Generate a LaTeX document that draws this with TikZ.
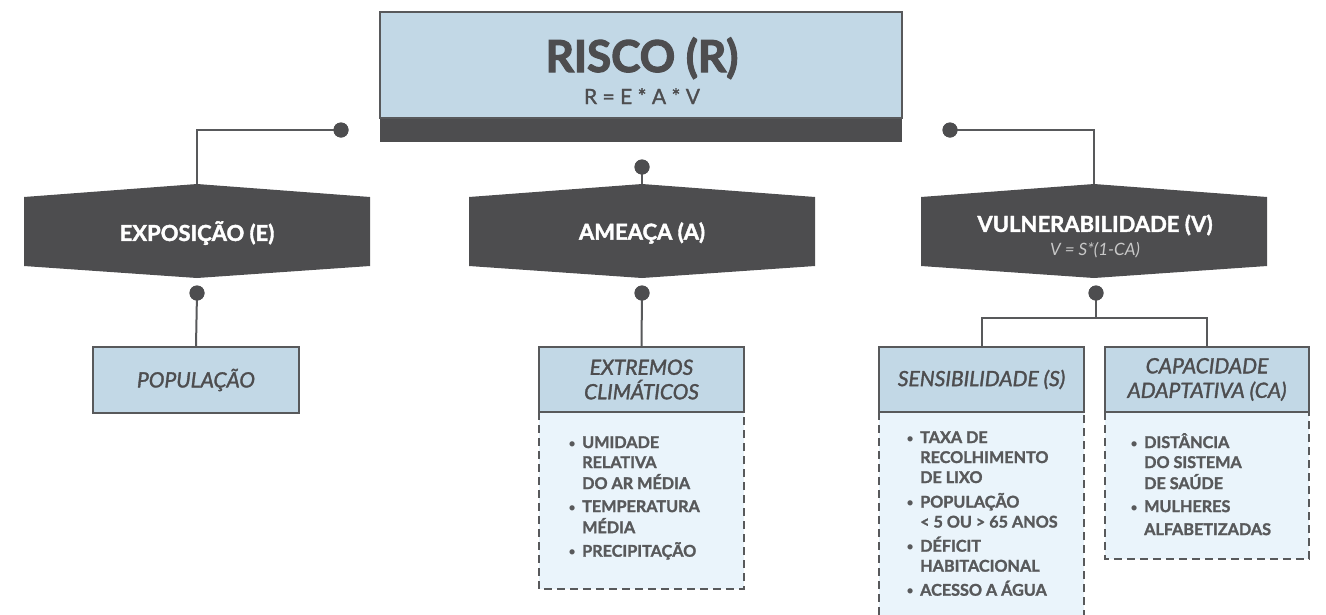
\documentclass[tikz,border=0pt]{standalone}
\usepackage{fontspec}
\setmainfont{Lato}
\newfontfamily\fBlack{Lato}[BoldFeatures={FakeBold=2.6}]
\newfontfamily\fHeavy{Lato}[BoldFeatures={FakeBold=1.8}]
\newfontfamily\fList{Lato}[BoldFeatures={FakeBold=1.6}]
\newfontfamily\fSemi{Lato}[ItalicFeatures={FakeBold=1.6}]
\newfontfamily\fMed{Lato}[UprightFeatures={FakeBold=1.3}]
\definecolor{dk}{HTML}{4D4D4F}
\definecolor{ln}{HTML}{58595B}
\definecolor{hb}{HTML}{C2D8E6}
\definecolor{lb}{HTML}{EAF4FB}
\definecolor{fg}{HTML}{C8C8C8}
\newcommand\hexshape[2]{\fill[dk] ({#1-#2},197) -- (#1,184) -- ({#1+#2},197) -- ({#1+#2},266) -- (#1,278) -- ({#1-#2},266) -- cycle;}
\newcommand\bul{\makebox[14pt][l]{{\normalfont\fontsize{14}{20}\selectfont •}}}
\newcommand\ind{\hspace*{14pt}}
\begin{document}
\begin{tikzpicture}[x=1pt,y=-1pt,
  conn/.style={draw=ln, line width=2pt},
  dotc/.style={circle, fill=dk, inner sep=0pt, minimum size=15pt},
  hdr/.style={draw=ln, line width=1.8pt, fill=hb, text=dk, align=center, inner sep=0pt},
  dashbox/.style={draw=ln, line width=1.8pt, dash pattern=on 8pt off 5pt, fill=lb},
  hextext/.style={text=white, font=\fHeavy\bfseries\fontsize{22}{25}\selectfont, align=center},
  hdrfont/.style={font=\fSemi\itshape\fontsize{21}{24.5}\selectfont},
  blist/.style={font=\fList\bfseries\fontsize{16.2}{20}\selectfont, text=ln, anchor=base west, inner sep=0pt, align=left}
]
\useasboundingbox (0,0) rectangle (1326,614);

% top box
\fill[dk] (380,118) rectangle (902,142);
\node[hdr, minimum width=522pt, minimum height=106pt] (risk) at (641,65) {};
\node[text=dk, font=\fBlack\bfseries\fontsize{44}{46}\selectfont, anchor=base] (rtitle) at (642,72) {RISCO (R)};
\node[text=dk, font=\fMed\fontsize{21}{25}\selectfont, anchor=base] (rform) at (642,104) {R = E * A * V};

% hexagons
\hexshape{197}{173}
\hexshape{642}{173}
\hexshape{1094}{173}
\coordinate (Etop) at (197,184);
\coordinate (Atop) at (642,184);
\coordinate (Vtop) at (1094,184);
\node[hextext] (E) at (197,233) {EXPOSIÇÃO (E)};
\node[hextext] (A) at (642,233) {AMEAÇA (A)};
\node[hextext] (V) at (1095,225) {VULNERABILIDADE (V)};
\node[text=fg, font=\itshape\fontsize{17}{20}\selectfont] (Vf) at (1095,250) {V = S*(1-CA)};

% dots
\node[dotc] (d1) at (341,130) {};
\node[dotc] (d2) at (642,167) {};
\node[dotc] (d3) at (950,130) {};
\node[dotc] (d4) at (197,293) {};
\node[dotc] (d5) at (642,293) {};
\node[dotc] (d6) at (1096,293) {};
\coordinate (j) at (1096,318);

% dashed list boxes
\draw[dashbox] (539,412) rectangle (744,589);
\draw[dashbox] (879,412) rectangle (1084,640);
\draw[dashbox] (1105,412) rectangle (1309,559);

% header boxes
\node[hdr, hdrfont, minimum width=206pt, minimum height=66pt] (pop) at (196,380) {POPULAÇÃO};
\node[hdr, hdrfont, minimum width=205pt, minimum height=65pt] (ext) at (641.5,379.5) {EXTREMOS\\CLIMÁTICOS};
\node[hdr, hdrfont, minimum width=205pt, minimum height=65pt] (sens) at (981.5,379.5) {SENSIBILIDADE (S)};
\node[hdr, hdrfont, minimum width=204pt, minimum height=65pt] (cap) at (1207,379.5) {CAPACIDADE\\ADAPTATIVA (CA)};

% connectors
\draw[conn] (d1.center) -| (Etop);
\draw[conn] (d2.center) -- (Atop);
\draw[conn] (d3.center) -| (Vtop);
\draw[conn] (d4.center) -- (pop.north);
\draw[conn] (d5.center) -- (ext.north);
\draw[conn] (d6.center) -- (j);
\draw[conn] (sens.north) |- (j) -| (cap.north);
\foreach \d in {d1,d2,d3,d4,d5,d6} \node[dotc] at (\d) {};

% lists
\node[blist] (l1) at (568,448) {\begin{tabular}[t]{@{}l@{}}
\bul UMIDADE\\ \ind RELATIVA\\ \ind DO AR MÉDIA\\[3pt]
\bul TEMPERATURA\\ \ind MÉDIA\\[3pt]
\bul PRECIPITAÇÃO\end{tabular}};
\node[blist] (l2) at (906,443) {\begin{tabular}[t]{@{}l@{}}
\bul TAXA DE\\ \ind RECOLHIMENTO\\ \ind DE LIXO\\[4pt]
\bul POPULAÇÃO\\ \ind < 5 OU > 65 ANOS\\[3pt]
\bul DÉFICIT\\ \ind HABITACIONAL\\[3pt]
\bul ACESSO A ÁGUA\end{tabular}};
\node[blist] (l3) at (1130,448) {\begin{tabular}[t]{@{}l@{}}
\bul DISTÂNCIA\\ \ind DO SISTEMA\\ \ind DE SAÚDE\\[3pt]
\bul MULHERES\\[3pt] \ind ALFABETIZADAS\end{tabular}};
\end{tikzpicture}
\end{document}
